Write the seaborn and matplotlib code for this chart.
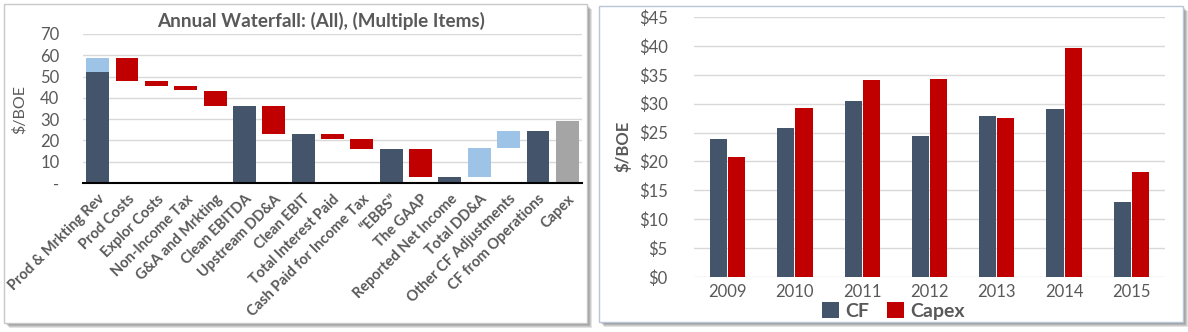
import numpy as np
import pandas as pd
import matplotlib
matplotlib.use("Agg")
import matplotlib.pyplot as plt
import seaborn as sns
from matplotlib.patches import Rectangle

# ---------------- data ----------------
categories = [
    "Prod & Mrkting Rev", "Prod Costs", "Explor Costs", "Non-Income Tax",
    "G&A and Mrkting", "Clean EBITDA", "Upstream DD&A", "Clean EBIT",
    "Total Interest Paid", "Cash Paid for Income Tax", "\u201cEBBS\u201d",
    "The GAAP", "Reported Net Income", "Total DD&A", "Other CF Adjustments",
    "CF from Operations", "Capex",
]
# waterfall segments: category index, lower edge, upper edge, segment kind
seg_index = [0, 0, 1, 2, 3, 4, 5, 6, 7, 8, 9, 10, 11, 12, 13, 14, 15, 16]
seg_low = [0, 52.0, 48.0, 45.7, 43.5, 36.0, 0, 23.0, 0, 20.7, 16.0, 0, 2.7, 0, 2.7, 16.4, 0, 0]
seg_high = [52.0, 58.5, 58.5, 47.8, 45.6, 43.4, 36.0, 36.0, 23.0, 23.0, 20.6, 16.0, 16.0, 2.7, 16.4, 24.3, 24.3, 29.2]
seg_kind = ["total", "increase", "decrease", "decrease", "decrease", "decrease",
            "total", "decrease", "total", "decrease", "decrease", "total",
            "decrease", "total", "increase", "increase", "total", "capex"]

years = ["2009", "2010", "2011", "2012", "2013", "2014", "2015"]
cf = [23.9, 25.8, 30.4, 24.4, 27.9, 29.0, 12.9]
capex = [20.7, 29.3, 34.1, 34.3, 27.6, 39.6, 18.1]

waterfall_ticks = [0, 10, 20, 30, 40, 50, 60, 70]
waterfall_ticklabels = ["-", "10", "20", "30", "40", "50", "60", "70"]
dollar_ticks = [0, 5, 10, 15, 20, 25, 30, 35, 40, 45]
dollar_ticklabels = ["$%d" % v for v in dollar_ticks]

# ---------------- style ----------------
sns.set_theme(style="white")
plt.rcParams["font.family"] = ["Lato", "DejaVu Sans"]

TEXT = "#595959"
NAVY = "#44546a"
RED = "#c00000"
LIGHT = "#9dc3e6"
GREY = "#a5a5a5"
GRID = "#d9d9d9"
kind_colors = {"total": NAVY, "increase": LIGHT, "decrease": RED, "capex": GREY}

W, H = 1188, 332
fig = plt.figure(figsize=(W / 100, H / 100), dpi=100)
fig.patch.set_facecolor("white")


def px_box(x0, y0, x1, y1):
    return [x0 / W, 1 - y1 / H, (x1 - x0) / W, (y1 - y0) / H]


def panel(x0, y0, x1, y1, edge):
    # soft drop shadow to the lower right, then the white card
    for off in range(1, 6):
        fig.patches.append(Rectangle(((x0 + off) / W, 1 - (y1 + off) / H),
                                     (x1 - x0) / W, (y1 - y0) / H,
                                     transform=fig.transFigure, facecolor="black",
                                     alpha=0.11, edgecolor="none", zorder=-3))
    fig.patches.append(Rectangle((x0 / W, 1 - y1 / H), (x1 - x0) / W, (y1 - y0) / H,
                                 transform=fig.transFigure, facecolor="white",
                                 edgecolor=edge, lw=1.0, zorder=-2))


panel(4, 4, 587, 323, "#c8c8c8")
panel(599, 6, 1183, 322, "#b8c6d8")

# ---------------- waterfall ----------------
ax1 = fig.add_axes(px_box(83, 34, 582, 183))
ax1.set_facecolor("none")
wf = pd.DataFrame({
    "pos": seg_index,
    "category": [categories[i] for i in seg_index],
    "low": seg_low,
    "high": seg_high,
    "kind": seg_kind,
})
wf["height"] = wf["high"] - wf["low"]
for kind, color in kind_colors.items():
    sub = wf[wf["kind"] == kind].sort_values("pos")
    sns.barplot(data=sub, x="category", y="height", order=categories, color=color,
                saturation=1, width=0.78, errorbar=None, ax=ax1,
                bottom=sub["low"].to_numpy(), linewidth=0)

ax1.set_ylim(0, 70)
ax1.set_yticks(waterfall_ticks)
ax1.set_yticklabels(waterfall_ticklabels)
ax1.yaxis.grid(True, color=GRID, lw=1)
ax1.set_axisbelow(True)
for s in ["left", "right", "top"]:
    ax1.spines[s].set_visible(False)
ax1.spines["bottom"].set_color("black")
ax1.spines["bottom"].set_linewidth(1.5)
ax1.set_xlabel("")
ax1.set_ylabel("")
ax1.tick_params(axis="y", length=0, pad=17, labelsize=12, labelcolor=TEXT)
ax1.tick_params(axis="x", length=0, pad=6.5, labelsize=10.5, labelcolor=TEXT)
for lab in ax1.get_xticklabels():
    lab.set_rotation(45)
    lab.set_ha("right")
    lab.set_rotation_mode("anchor")
    lab.set_fontweight("bold")
fig.text(321 / W, 1 - 21 / H, "Annual Waterfall: (All), (Multiple Items)",
         ha="center", va="center", fontsize=13.6, fontweight="bold", color=TEXT)
fig.text(19 / W, 1 - 109 / H, "$/BOE", rotation=90, ha="center", va="center",
         fontsize=11.5, color=TEXT)

# ---------------- CF vs Capex ----------------
ax2 = fig.add_axes(px_box(694, 17, 1165, 277))
ax2.set_facecolor("none")
long = pd.DataFrame({
    "year": years * 2,
    "value": cf + capex,
    "series": ["CF"] * len(years) + ["Capex"] * len(years),
})
sns.barplot(data=long, x="year", y="value", hue="series", hue_order=["CF", "Capex"],
            palette=[NAVY, RED], saturation=1, width=0.54, gap=0.06,
            errorbar=None, ax=ax2, linewidth=0)
ax2.set_ylim(0, 45)
ax2.set_yticks(dollar_ticks)
ax2.set_yticklabels(dollar_ticklabels)
ax2.yaxis.grid(True, color=GRID, lw=1)
ax2.set_axisbelow(True)
for s in ["left", "right", "top", "bottom"]:
    ax2.spines[s].set_visible(False)
ax2.set_xlabel("")
ax2.set_ylabel("")
ax2.tick_params(axis="y", length=0, pad=19, labelsize=12, labelcolor=TEXT)
ax2.tick_params(axis="x", length=0, pad=5, labelsize=12, labelcolor=TEXT)
fig.text(623 / W, 1 - 146 / H, "$/BOE", rotation=90, ha="center", va="center",
         fontsize=12, fontweight="bold", color=TEXT)
sns.move_legend(ax2, "center", bbox_to_anchor=(893 / W, 1 - 311 / H),
                bbox_transform=fig.transFigure, ncol=2, frameon=False, title=None,
                handlelength=0.9, handleheight=0.9, handletextpad=0.3,
                columnspacing=0.9, prop={"weight": "bold", "size": 14})
for t in ax2.get_legend().get_texts():
    t.set_color(TEXT)

fig.savefig("out.png", dpi=100, facecolor="white")
